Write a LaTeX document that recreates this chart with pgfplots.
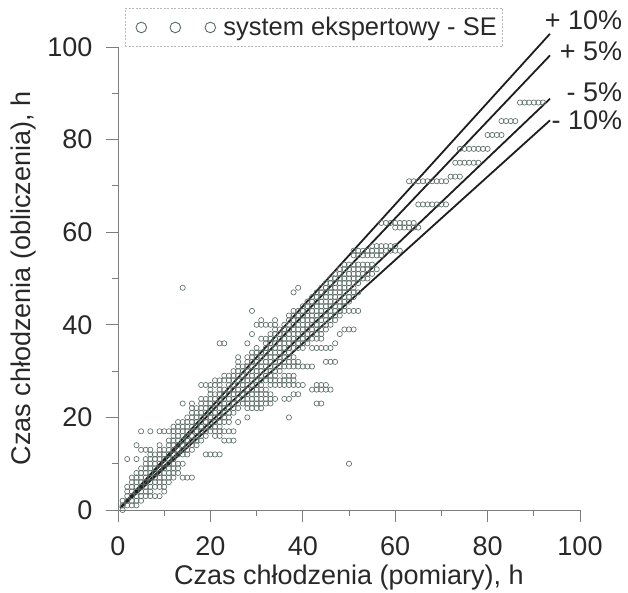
\documentclass[border=0pt]{standalone}
\usepackage{fontspec}
\setmainfont{Liberation Sans}
\usepackage{pgfplots}
\pgfplotsset{compat=1.18}

\definecolor{markgray}{RGB}{92,108,102}
\definecolor{axisgray}{RGB}{125,125,125}
\definecolor{linedark}{RGB}{30,30,30}
\definecolor{textdark}{RGB}{40,40,40}

\begin{document}
\begin{tikzpicture}[font=\fontsize{27bp}{32bp}\selectfont]
\begin{axis}[
  scale only axis, width=462bp, height=463bp,
  xmin=0, xmax=100, ymin=0, ymax=100,
  axis x line=bottom, axis y line=left,
  axis line style={axisgray, line width=0.8bp, -},
  xtick={0,20,...,100}, ytick={0,20,...,100},
  minor xtick={10,30,...,90}, minor ytick={10,30,...,90},
  tick align=outside,
  major tick length=12bp, minor tick length=6bp,
  every tick/.style={axisgray, line width=0.8bp},
  /pgf/number format/assume math mode=true,
  ticklabel style={font=\fontsize{27bp}{32bp}\selectfont, text=textdark},
  xticklabel style={yshift=-11bp},
  yticklabel style={xshift=-10bp},
  label style={font=\fontsize{27bp}{32bp}\selectfont, text=textdark},
  xlabel={Czas chłodzenia (pomiary), h},
  ylabel={Czas chłodzenia (obliczenia), h},
  xlabel style={yshift=-2bp},
  ylabel style={yshift=4bp},
  clip=false,
  legend style={at={(0.015,1.084)}, anchor=north west,
    draw=gray!55, dash pattern=on 2bp off 1.5bp, line width=0.8bp,
    inner xsep=4bp, inner ysep=7bp,
    font=\fontsize{25.5bp}{30bp}\selectfont, text=textdark},
  legend cell align=left,
  legend image code/.code={%
    \draw[solid, markgray, line width=0.9bp]
      (12bp,0bp) circle (5.3bp) (46bp,0bp) circle (5.3bp) (81bp,0bp) circle (5.3bp);
    \path[draw=none] (0bp,0bp) rectangle (92bp,0.1bp);},
]

% measured vs. computed cooling times (h), one row per computed value
\addplot[only marks, mark=o, mark size=2.6bp,
  mark options={markgray, line width=0.65bp}] coordinates {
(1,0)
(1,1) (2,1) (3,1) (4,1)
(1,2) (2,2) (3,2) (4,2) (5,2)
(2,3) (3,3) (4,3) (5,3) (6,3) (7,3) (8,3) (9,3)
(2,4) (3,4) (4,4) (5,4) (6,4) (7,4) (10,4)
(2,5) (3,5) (4,5) (5,5) (6,5) (7,5) (8,5) (9,5) (10,5)
(3,6) (4,6) (5,6) (6,6) (7,6) (8,6) (9,6) (10,6) (11,6)
(3,7) (4,7) (5,7) (6,7) (7,7) (8,7) (9,7) (10,7) (11,7) (12,7) (14,7) (15,7) (16,7)
(4,8) (5,8) (6,8) (7,8) (8,8) (9,8) (10,8) (11,8) (12,8) (13,8)
(5,9) (6,9) (7,9) (8,9) (9,9) (10,9) (11,9) (12,9) (13,9)
(6,10) (7,10) (8,10) (9,10) (10,10) (11,10) (12,10) (13,10) (14,10) (50,10)
(2,11) (4,11) (6,11) (7,11) (8,11) (9,11) (10,11) (11,11) (12,11)
(7,12) (8,12) (9,12) (10,12) (11,12) (12,12) (13,12) (14,12) (15,12) (19,12) (20,12) (21,12) (22,12)
(5,13) (6,13) (7,13) (9,13) (10,13) (11,13) (12,13) (13,13) (14,13) (15,13) (16,13)
(4,14) (9,14) (11,14) (12,14) (13,14) (14,14) (15,14) (16,14) (17,14)
(11,15) (12,15) (13,15) (14,15) (15,15) (16,15) (17,15) (18,15) (23,15) (24,15) (25,15)
(12,16) (13,16) (14,16) (15,16) (16,16) (17,16) (18,16) (19,16) (21,16) (22,16)
(5,17) (7,17) (9,17) (10,17) (11,17) (12,17) (13,17) (14,17) (15,17) (16,17) (17,17) (18,17) (19,17) (20,17) (21,17) (22,17) (23,17) (24,17) (25,17)
(12,18) (13,18) (14,18) (15,18) (16,18) (17,18) (18,18) (19,18) (20,18) (21,18) (22,18)
(13,19) (14,19) (15,19) (16,19) (17,19) (18,19) (19,19) (20,19) (21,19) (22,19) (23,19) (24,19) (26,19)
(15,20) (16,20) (17,20) (18,20) (19,20) (20,20) (21,20) (22,20) (23,20) (24,20) (28,20) (37,20)
(16,21) (17,21) (18,21) (19,21) (20,21) (21,21) (22,21) (23,21) (24,21) (25,21)
(16,22) (17,22) (18,22) (19,22) (20,22) (21,22) (22,22) (23,22) (24,22) (25,22) (26,22) (28,22) (29,22) (30,22) (31,22)
(14,23) (16,23) (18,23) (19,23) (20,23) (21,23) (22,23) (23,23) (24,23) (25,23) (26,23) (27,23) (28,23) (29,23) (30,23) (31,23) (32,23) (33,23) (43,23) (44,23)
(18,24) (19,24) (20,24) (21,24) (22,24) (23,24) (24,24) (25,24) (26,24) (27,24) (28,24) (29,24) (30,24) (31,24) (32,24) (33,24) (34,24) (36,24) (37,24)
(20,25) (21,25) (22,25) (23,25) (24,25) (25,25) (26,25) (27,25) (28,25) (29,25) (30,25) (31,25) (32,25) (33,25) (38,25) (39,25)
(20,26) (22,26) (23,26) (24,26) (25,26) (26,26) (27,26) (28,26) (29,26) (30,26) (31,26) (32,26) (42,26) (43,26) (44,26) (45,26) (46,26)
(18,27) (19,27) (20,27) (21,27) (22,27) (24,27) (25,27) (26,27) (27,27) (28,27) (29,27) (30,27) (31,27) (33,27) (34,27) (35,27) (36,27) (37,27) (38,27) (39,27) (40,27) (43,27) (44,27) (45,27)
(21,28) (22,28) (23,28) (24,28) (25,28) (26,28) (27,28) (28,28) (29,28) (30,28) (31,28) (32,28) (33,28) (34,28) (35,28) (36,28) (37,28) (38,28)
(23,29) (24,29) (25,29) (26,29) (27,29) (28,29) (29,29) (30,29) (31,29) (32,29) (33,29) (34,29) (36,29) (37,29) (38,29)
(25,30) (26,30) (27,30) (28,30) (29,30) (30,30) (31,30) (32,30) (33,30) (34,30) (35,30)
(26,31) (27,31) (28,31) (29,31) (30,31) (31,31) (32,31) (33,31) (34,31) (35,31) (36,31) (37,31) (38,31) (39,31) (40,31) (41,31) (42,31)
(26,32) (28,32) (29,32) (30,32) (31,32) (32,32) (33,32) (34,32) (35,32) (36,32) (37,32) (38,32) (39,32) (45,32) (46,32) (47,32)
(26,33) (28,33) (29,33) (30,33) (31,33) (32,33) (33,33) (34,33) (35,33) (36,33) (37,33) (38,33)
(29,34) (30,34) (31,34) (32,34) (33,34) (34,34) (35,34) (36,34) (37,34)
(30,35) (32,35) (33,35) (34,35) (35,35) (36,35) (37,35) (38,35) (39,35) (40,35) (42,35) (43,35) (44,35) (45,35) (46,35)
(22,36) (23,36) (28,36) (32,36) (33,36) (34,36) (35,36) (36,36) (37,36) (38,36) (39,36) (40,36) (41,36) (47,36)
(31,37) (32,37) (33,37) (34,37) (35,37) (36,37) (37,37) (38,37) (39,37) (40,37) (41,37) (42,37) (43,37) (44,37)
(29,38) (33,38) (34,38) (35,38) (36,38) (37,38) (38,38) (39,38) (40,38) (41,38) (42,38) (43,38) (44,38) (48,38)
(34,39) (35,39) (36,39) (37,39) (38,39) (39,39) (40,39) (41,39) (42,39) (43,39) (44,39) (45,39) (49,39) (50,39) (51,39)
(30,40) (31,40) (32,40) (33,40) (34,40) (36,40) (37,40) (38,40) (39,40) (40,40) (41,40) (42,40) (43,40) (44,40) (45,40) (46,40)
(31,41) (34,41) (37,41) (38,41) (39,41) (40,41) (41,41) (42,41) (43,41) (44,41) (45,41) (46,41) (47,41)
(37,42) (38,42) (39,42) (40,42) (41,42) (42,42) (43,42) (44,42) (45,42) (46,42) (47,42) (48,42)
(29,43) (38,43) (39,43) (40,43) (41,43) (42,43) (43,43) (44,43) (45,43) (46,43) (47,43) (48,43) (49,43) (50,43) (51,43) (52,43)
(40,44) (41,44) (42,44) (43,44) (44,44) (45,44) (46,44) (47,44) (48,44) (49,44)
(41,45) (42,45) (43,45) (44,45) (45,45) (46,45) (47,45) (48,45) (49,45) (50,45)
(42,46) (43,46) (44,46) (45,46) (46,46) (47,46) (48,46) (49,46) (50,46) (51,46)
(38,47) (43,47) (44,47) (45,47) (46,47) (47,47) (48,47) (49,47) (50,47) (51,47) (52,47)
(14,48) (39,48) (44,48) (45,48) (46,48) (47,48) (48,48) (49,48) (50,48) (51,48)
(45,49) (46,49) (47,49) (48,49) (49,49) (50,49) (51,49) (52,49)
(46,50) (47,50) (48,50) (49,50) (50,50) (51,50) (52,50) (53,50) (54,50)
(47,51) (48,51) (49,51) (50,51) (51,51) (52,51) (53,51) (54,51) (55,51)
(48,52) (49,52) (50,52) (51,52) (52,52) (53,52) (54,52) (55,52) (56,52)
(49,53) (50,53) (51,53) (52,53) (53,53) (54,53) (55,53)
(51,55) (52,55) (53,55) (54,55) (55,55) (56,55) (57,55)
(51,56) (52,56) (53,56) (54,56) (55,56) (56,56) (57,56) (58,56) (59,56) (60,56) (61,56)
(55,57) (56,57) (57,57) (58,57) (59,57) (60,57)
(60,61) (61,61) (62,61) (63,61) (64,61) (65,61)
(57,62) (58,62) (59,62) (60,62) (61,62) (62,62) (63,62) (64,62)
(65,66) (66,66) (67,66) (68,66) (69,66) (70,66) (71,66)
(63,71) (64,71) (65,71) (66,71) (67,71) (68,71) (69,71) (70,71) (71,71)
(72,72) (73,72) (74,72)
(73,75) (74,75) (75,75) (76,75) (77,75) (78,75)
(74,78) (75,78) (76,78) (77,78) (78,78) (79,78) (80,78)
(80,81) (81,81) (82,81) (83,81)
(83,84) (84,84) (85,84) (86,84)
(87,88) (88,88) (89,88) (90,88) (91,88) (92,88)
};
\addlegendentry{system ekspertowy - SE}

% error bands: +10 %, +5 %, -5 %, -10 %
\addplot[linedark, line width=1.8bp, forget plot] coordinates {(0.5,0.55) (93.5,102.85)};
\addplot[linedark, line width=1.8bp, forget plot] coordinates {(0.5,0.525) (93.5,98.18)};
\addplot[linedark, line width=1.8bp, forget plot] coordinates {(0.5,0.475) (93.5,88.83)};
\addplot[linedark, line width=1.8bp, forget plot] coordinates {(0.5,0.45) (93.5,84.15)};

\node[anchor=east, text=textdark] at (axis cs:109.9,105.8) {+ 10\%};
\node[anchor=east, text=textdark] at (axis cs:109.9,99.1) {+ 5\%};
\node[anchor=east, text=textdark] at (axis cs:109.9,90.3) {- 5\%};
\node[anchor=east, text=textdark] at (axis cs:109.9,84.2) {- 10\%};

% page extent
\path (rel axis cs:-0.2554,-0.1706) rectangle (rel axis cs:1.1039,1.1015);
\end{axis}
\end{tikzpicture}
\end{document}
